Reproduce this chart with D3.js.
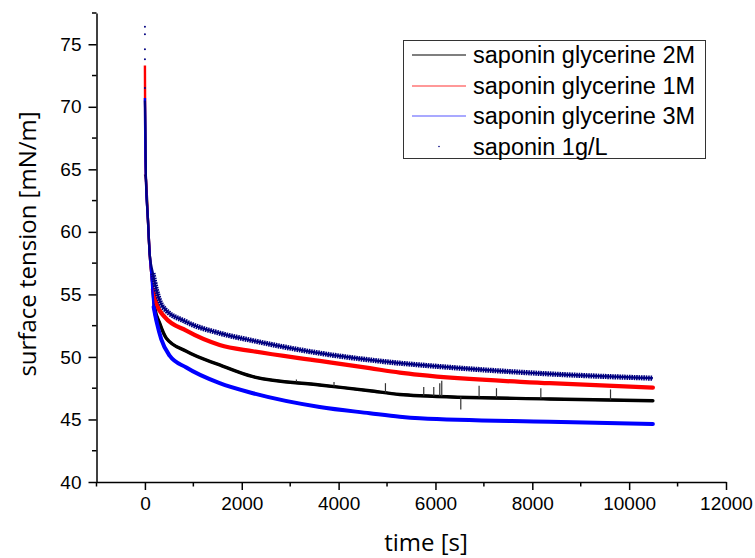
<!DOCTYPE html>
<html>
<head>
<meta charset="utf-8">
<script src="https://cdn.jsdelivr.net/npm/d3@7"></script>
<style>
  html, body { margin: 0; padding: 0; background: #fff; }
  svg { display: block; }
</style>
</head>
<body>
<svg id="chart" width="755" height="558"></svg>
<script>
// ---- data ----
const seriesNames = ["saponin glycerine 2M", "saponin glycerine 1M", "saponin glycerine 3M", "saponin 1g/L"];

const time2M  = [0, 21, 62, 97, 131, 165, 200, 304, 442, 855, 1543, 2231, 3609, 4643, 5262, 5676, 8362, 10490];
const tens2M  = [64.6, 64.2, 61, 58.3, 56.7, 55.4, 54.0, 52.7, 51.5, 50.45, 49.36, 48.42, 47.76, 47.3, 47.0, 46.9, 46.64, 46.5];

const time1M  = [0, 8, 21, 62, 97, 131, 165, 235, 407, 855, 1543, 2231, 3609, 4643, 5262, 5676, 8362, 10490];
const tens1M  = [73.3, 66, 64.2, 61, 58.3, 56.7, 55.4, 54.3, 53.2, 52.1, 50.96, 50.45, 49.68, 49.1, 48.75, 48.56, 47.9, 47.55];

const time3M  = [0, 10, 21, 62, 97, 131, 153, 180, 248, 338, 510, 855, 1543, 2231, 3609, 4643, 5262, 5676, 8362, 10490];
const tens3M  = [70.7, 66, 64.2, 61, 58.3, 56.7, 55.4, 54.0, 52.7, 51.4, 50.1, 49.15, 47.9, 47.1, 46.0, 45.5, 45.22, 45.1, 44.82, 44.64];

const timeSap = [0, 14, 21, 62, 97, 165, 235, 372, 855, 1543, 2231, 3609, 4643, 5262, 5676, 8362, 10490];
const tensSap = [70.5, 67.4, 64.2, 61, 58.3, 56.7, 55.4, 54.0, 52.8, 51.9, 51.3, 50.3, 49.76, 49.5, 49.36, 48.64, 48.3];
// scattered first readings of saponin 1g/L near t = 0
const sapStartTime = [0, 0, 0, 0, 0];
const sapStartTens = [76.4, 75.8, 74.6, 73.8, 71.5];

// spikes visible on the 2M trace: [time, tip value]
const spike2MTime = [3128, 3905, 4967, 5758, 5965, 6089, 6130, 6523, 6901, 7260, 8176, 9615];
const spike2MTip  = [48.2, 48.0, 47.9, 47.6, 47.6, 47.9, 48.1, 45.8, 47.7, 47.5, 47.5, 47.4];

const xTicksMajor = [0, 2000, 4000, 6000, 8000, 10000, 12000];
const xTicksMinor = [-1000, 1000, 3000, 5000, 7000, 9000, 11000];
const yTicksMajor = [40, 45, 50, 55, 60, 65, 70, 75];
const yTicksMinor = [42.5, 47.5, 52.5, 57.5, 62.5, 67.5, 72.5, 77.5];

// ---- drawing ----
const svg = d3.select("#chart");
const x = d3.scaleLinear().domain([-1000, 12000]).range([96.5, 726]);
const y = d3.scaleLinear().domain([40, 77.5]).range([482, 13]);

const zip = (ts, vs) => ts.map((t, i) => [t, vs[i]]);
const line = d3.line().x(d => x(d[0])).y(d => y(d[1])).curve(d3.curveMonotoneX);
const PLATEAU_FROM = 160; // steep start drawn thinner, noisy plateau drawn as thicker band

const plot = svg.append("g");
function drawSeries(ts, vs, color, thin, thick, dash) {
  const pts = zip(ts, vs);
  plot.append("path").datum(pts).attr("d", line)
    .attr("fill", "none").attr("stroke", color).attr("stroke-width", thin)
    .attr("stroke-linejoin", "round");
  const late = pts.filter(d => d[0] >= PLATEAU_FROM);
  const p = plot.append("path").datum(late).attr("d", line)
    .attr("fill", "none").attr("stroke", color).attr("stroke-width", thick)
    .attr("stroke-linejoin", "round").attr("stroke-linecap", dash ? "butt" : "round");
  if (dash) p.attr("stroke-dasharray", dash);
  return p;
}

// 2M black
drawSeries(time2M, tens2M, "#000", 2.4, 3.4);
const base2M = d3.scaleLinear().domain(time2M).range(tens2M);
plot.selectAll("line.spike").data(spike2MTime.map((t, i) => [t, spike2MTip[i]])).join("line")
  .attr("class", "spike")
  .attr("x1", d => x(d[0])).attr("x2", d => x(d[0]))
  .attr("y1", d => y(base2M(d[0]))).attr("y2", d => y(d[1]))
  .attr("stroke", "#333").attr("stroke-width", 1.2);
// 1M red
drawSeries(time1M, tens1M, "#ff0000", 2.4, 4.2);
// 3M blue
drawSeries(time3M, tens3M, "#0000ff", 2.4, 4);
// saponin 1g/L navy dotted band
drawSeries(timeSap, tensSap, "#000080", 2.2, 5.2, "1.6,0.8");
plot.selectAll("circle.sap0").data(zip(sapStartTime, sapStartTens)).join("circle")
  .attr("class", "sap0").attr("cx", d => x(d[0])).attr("cy", d => y(d[1])).attr("r", 1)
  .attr("fill", "#000080");

// axes
const axisCol = "#000";
const tickFont = "Liberation Sans, Arial, sans-serif";
const gx = svg.append("g").attr("transform", `translate(0,${y(40)})`);
gx.call(d3.axisBottom(x).tickValues(xTicksMajor).tickSize(8).tickSizeOuter(0).tickPadding(7).tickFormat(d3.format("d")));
gx.select(".domain").attr("stroke-width", 1.5);
gx.selectAll(".tick line").attr("stroke-width", 1.5);
gx.selectAll("text").attr("font-family", tickFont).attr("font-size", "19px").attr("fill", "#000");
gx.append("g").selectAll("line").data(xTicksMinor).join("line")
  .attr("x1", d => x(d)).attr("x2", d => x(d)).attr("y1", 0).attr("y2", 4.5)
  .attr("stroke", axisCol).attr("stroke-width", 1.5);

const gy = svg.append("g").attr("transform", `translate(${x(-1000)},0)`);
gy.call(d3.axisLeft(y).tickValues(yTicksMajor).tickSize(8).tickSizeOuter(0).tickPadding(7));
gy.select(".domain").attr("stroke-width", 1.5);
gy.selectAll(".tick line").attr("stroke-width", 1.5);
gy.selectAll("text").attr("font-family", tickFont).attr("font-size", "19px").attr("fill", "#000");
gy.append("g").selectAll("line").data(yTicksMinor).join("line")
  .attr("x1", 0).attr("x2", -4.5).attr("y1", d => y(d)).attr("y2", d => y(d))
  .attr("stroke", axisCol).attr("stroke-width", 1.5);

// axis titles
svg.append("text").attr("x", 426).attr("y", 551).attr("text-anchor", "middle")
  .attr("font-family", "Open Sans, Lato, sans-serif").attr("font-size", "24px").attr("fill", "#000")
  .text("time [s]");
svg.append("text").attr("transform", "translate(36,244) rotate(-90)").attr("text-anchor", "middle")
  .attr("font-family", "Open Sans, Lato, sans-serif").attr("font-size", "24px").attr("fill", "#000")
  .text("surface tension [mN/m]");

// legend
const lg = svg.append("g");
lg.append("rect").attr("x", 403.5).attr("y", 40.5).attr("width", 302).attr("height", 118)
  .attr("fill", "#fff").attr("stroke", "#333").attr("stroke-width", 1);
const legendColors = ["#000", "#ff3333", "#5555ff", "#000080"];
const rowY = [55, 86, 116, 146.5];
seriesNames.forEach((name, i) => {
  if (i < 3) {
    lg.append("line").attr("x1", 412).attr("x2", 466).attr("y1", rowY[i]).attr("y2", rowY[i])
      .attr("stroke", legendColors[i]).attr("stroke-width", 1.2);
  } else {
    lg.append("circle").attr("cx", 439).attr("cy", rowY[i]).attr("r", 0.8).attr("fill", legendColors[i]);
  }
  lg.append("text").attr("x", 473).attr("y", rowY[i]).attr("dy", "0.35em")
    .attr("font-family", "Liberation Sans, Arial, sans-serif").attr("font-size", "23.5px").attr("fill", "#000")
    .text(name);
});
</script>
</body>
</html>
